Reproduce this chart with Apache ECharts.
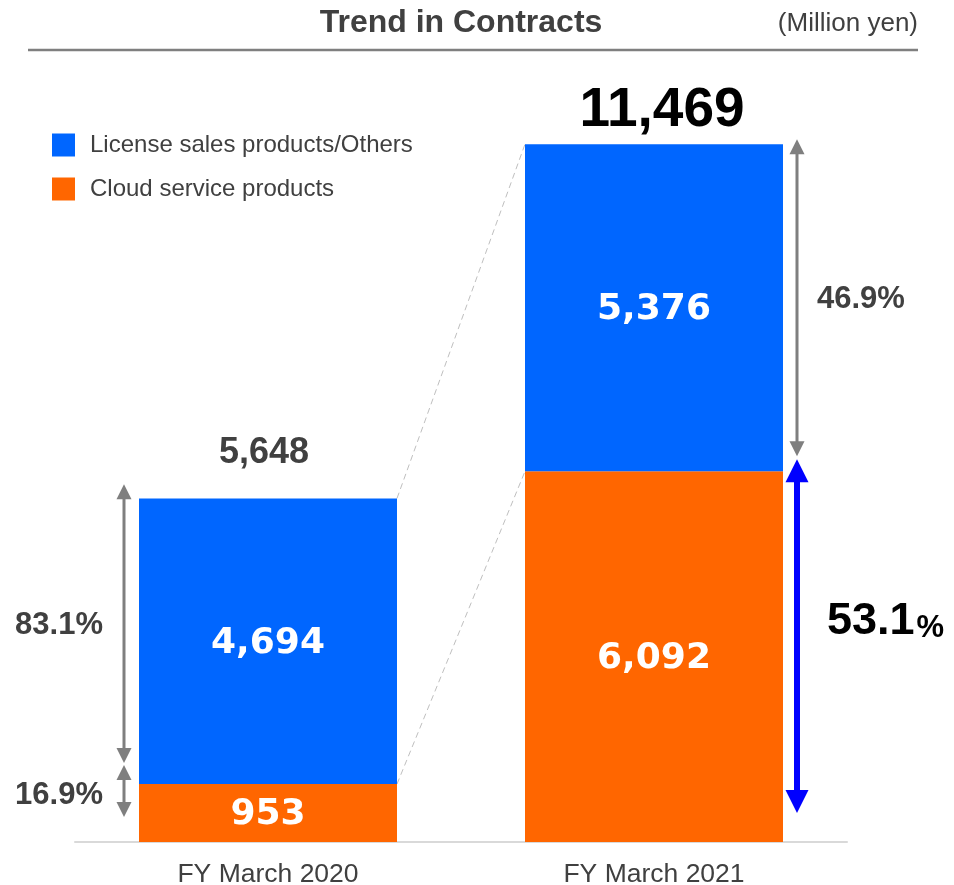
<!DOCTYPE html>
<html>
<head>
<meta charset="utf-8">
<script src="https://cdn.jsdelivr.net/npm/echarts@6/dist/echarts.min.js"></script>
<style>
  html, body { margin: 0; padding: 0; background: #fff; }
  #chart { width: 954px; height: 885px; }
</style>
</head>
<body>
<div id="chart"></div>
<script>
// Contracts by fiscal year (million yen)
const categories = ['FY March 2020', 'FY March 2021'];
const cloudValues = [953, 6092];
const licenseValues = [4694, 5376];
const totals = [5648, 11469];
// Share of each segment in the yearly total
const licenseShare = ['83.1%', '46.9%'];
const cloudShare = ['16.9%', '53.1'];

const BLUE = '#0066ff';
const ORANGE = '#ff6600';
const DARK = '#404040';
const GRAY = '#7f7f7f';
const SANS = '"Liberation Sans", Arial, sans-serif';
const NUM = '"DejaVu Sans", Verdana, sans-serif';

const chart = echarts.init(document.getElementById('chart'), null, { renderer: 'canvas' });

const insideLabel = {
  show: true,
  position: 'inside',
  color: '#fff',
  fontFamily: NUM,
  fontWeight: 'bold',
  fontSize: 36,
  offset: [0, 2],
  formatter: p => p.value.toLocaleString('en-US')
};

chart.setOption({
  animation: false,
  backgroundColor: '#fff',
  grid: { left: 75, right: 107, top: 51, bottom: 43, outerBoundsMode: 'none', containLabel: false },
  legend: {
    orient: 'vertical',
    left: 52,
    top: 133,
    padding: 0,
    itemWidth: 23,
    itemHeight: 23,
    itemGap: 20,
    icon: 'rect',
    data: ['License sales products/Others', 'Cloud service products'],
    textStyle: { color: DARK, fontFamily: SANS, fontSize: 24, padding: [0, 0, 0, 10] }
  },
  xAxis: {
    type: 'category',
    data: categories,
    axisLine: { lineStyle: { color: '#d9d9d9', width: 2 } },
    axisTick: { show: false },
    axisLabel: { color: DARK, fontFamily: SANS, fontSize: 26.5, margin: 19 }
  },
  yAxis: {
    type: 'value',
    min: 0,
    max: 13000,
    show: false,
    splitLine: { show: false }
  },
  series: [
    {
      name: 'Cloud service products',
      type: 'bar',
      stack: 'total',
      barWidth: 258,
      itemStyle: { color: ORANGE },
      label: insideLabel,
      data: cloudValues
    },
    {
      name: 'License sales products/Others',
      type: 'bar',
      stack: 'total',
      barWidth: 258,
      itemStyle: { color: BLUE },
      label: insideLabel,
      data: licenseValues
    }
  ]
});

// Pixel helpers built on the chart's own axes
const px = (i, v) => chart.convertToPixel({ gridIndex: 0 }, [i, v]);
const HALF = 129;
const measureCtx = document.createElement('canvas').getContext('2d');
function textWidth(str, font) {
  measureCtx.font = font;
  return measureCtx.measureText(str).width;
}

function arrow(x, y1, y2, color, lw, head) {
  return [
    {
      type: 'line',
      shape: { x1: x, y1: y1 + head * 0.8, x2: x, y2: y2 - head * 0.8 },
      style: { stroke: color, lineWidth: lw }
    },
    {
      type: 'polygon',
      shape: { points: [[x, y1], [x - head / 2, y1 + head], [x + head / 2, y1 + head]] },
      style: { fill: color }
    },
    {
      type: 'polygon',
      shape: { points: [[x, y2], [x - head / 2, y2 - head], [x + head / 2, y2 - head]] },
      style: { fill: color }
    }
  ];
}

function text(str, x, y, opts) {
  return {
    type: 'text',
    x: x, y: y,
    style: Object.assign({
      text: str,
      fill: DARK,
      font: 'bold 31px ' + SANS,
      align: 'center',
      verticalAlign: 'middle'
    }, opts || {})
  };
}

function annotate() {
  const els = [];
  // Header
  els.push(text('Trend in Contracts', 461, 23, { font: 'bold 32px ' + SANS }));
  els.push(text('(Million yen)', 918, 24, { font: '26px ' + SANS, align: 'right' }));
  els.push({
    type: 'line',
    shape: { x1: 28, y1: 50, x2: 918, y2: 50 },
    style: { stroke: GRAY, lineWidth: 2.5 }
  });

  const base0 = px(0, 0), base1 = px(1, 0);
  const top0 = px(0, totals[0]), top1 = px(1, totals[1]);
  const mid0 = px(0, cloudValues[0]), mid1 = px(1, cloudValues[1]);

  // Dashed connectors between the two bars
  els.push({
    type: 'line',
    shape: { x1: top0[0] + HALF, y1: top0[1], x2: top1[0] - HALF, y2: top1[1] },
    style: { stroke: '#bfbfbf', lineWidth: 1, lineDash: [6, 4] }
  });
  els.push({
    type: 'line',
    shape: { x1: mid0[0] + HALF, y1: mid0[1], x2: mid1[0] - HALF, y2: mid1[1] },
    style: { stroke: '#bfbfbf', lineWidth: 1, lineDash: [6, 4] }
  });

  // Totals above bars
  els.push(text(totals[0].toLocaleString('en-US'), top0[0] - 4, top0[1] - 45, { font: 'bold 36px ' + SANS }));
  els.push(text(totals[1].toLocaleString('en-US'), top1[0] + 8, top1[1] - 33, { font: 'bold 55px ' + SANS, fill: '#000' }));

  // Left share arrows
  const lx = base0[0] - HALF - 15;
  const a1 = [top0[1] - 14, mid0[1] - 21];
  const a2 = [mid0[1] - 19, base0[1] - 25];
  els.push(...arrow(lx, a1[0], a1[1], GRAY, 3, 15));
  els.push(...arrow(lx, a2[0], a2[1], GRAY, 3, 15));
  els.push(text(licenseShare[0], 103, (a1[0] + a1[1]) / 2 + 2, { align: 'right' }));
  els.push(text(cloudShare[0], 103, (a2[0] + a2[1]) / 2 + 4, { align: 'right' }));

  // Right share arrows
  const rx = base1[0] + HALF + 14;
  const b1 = [top1[1] - 5, mid1[1] - 15];
  const b2 = [mid1[1] - 12, base1[1] - 29];
  els.push(...arrow(rx, b1[0], b1[1], GRAY, 3, 15));
  els.push(...arrow(rx, b2[0], b2[1], '#0000ff', 6, 23));
  els.push(text(licenseShare[1], rx + 20, (b1[0] + b1[1]) / 2 + 2, { align: 'left' }));
  const bigFont = 'bold 45px ' + SANS;
  const bigY = (b2[0] + b2[1]) / 2 - 15;
  const bigX = rx + 30;
  els.push(text(cloudShare[1], bigX, bigY, { align: 'left', font: bigFont, fill: '#000' }));
  els.push(text('%', bigX + textWidth(cloudShare[1], bigFont) + 2, bigY + 7,
    { align: 'left', font: 'bold 31px ' + SANS, fill: '#000' }));

  chart.setOption({ graphic: { elements: els } });
}

annotate();
</script>
</body>
</html>
